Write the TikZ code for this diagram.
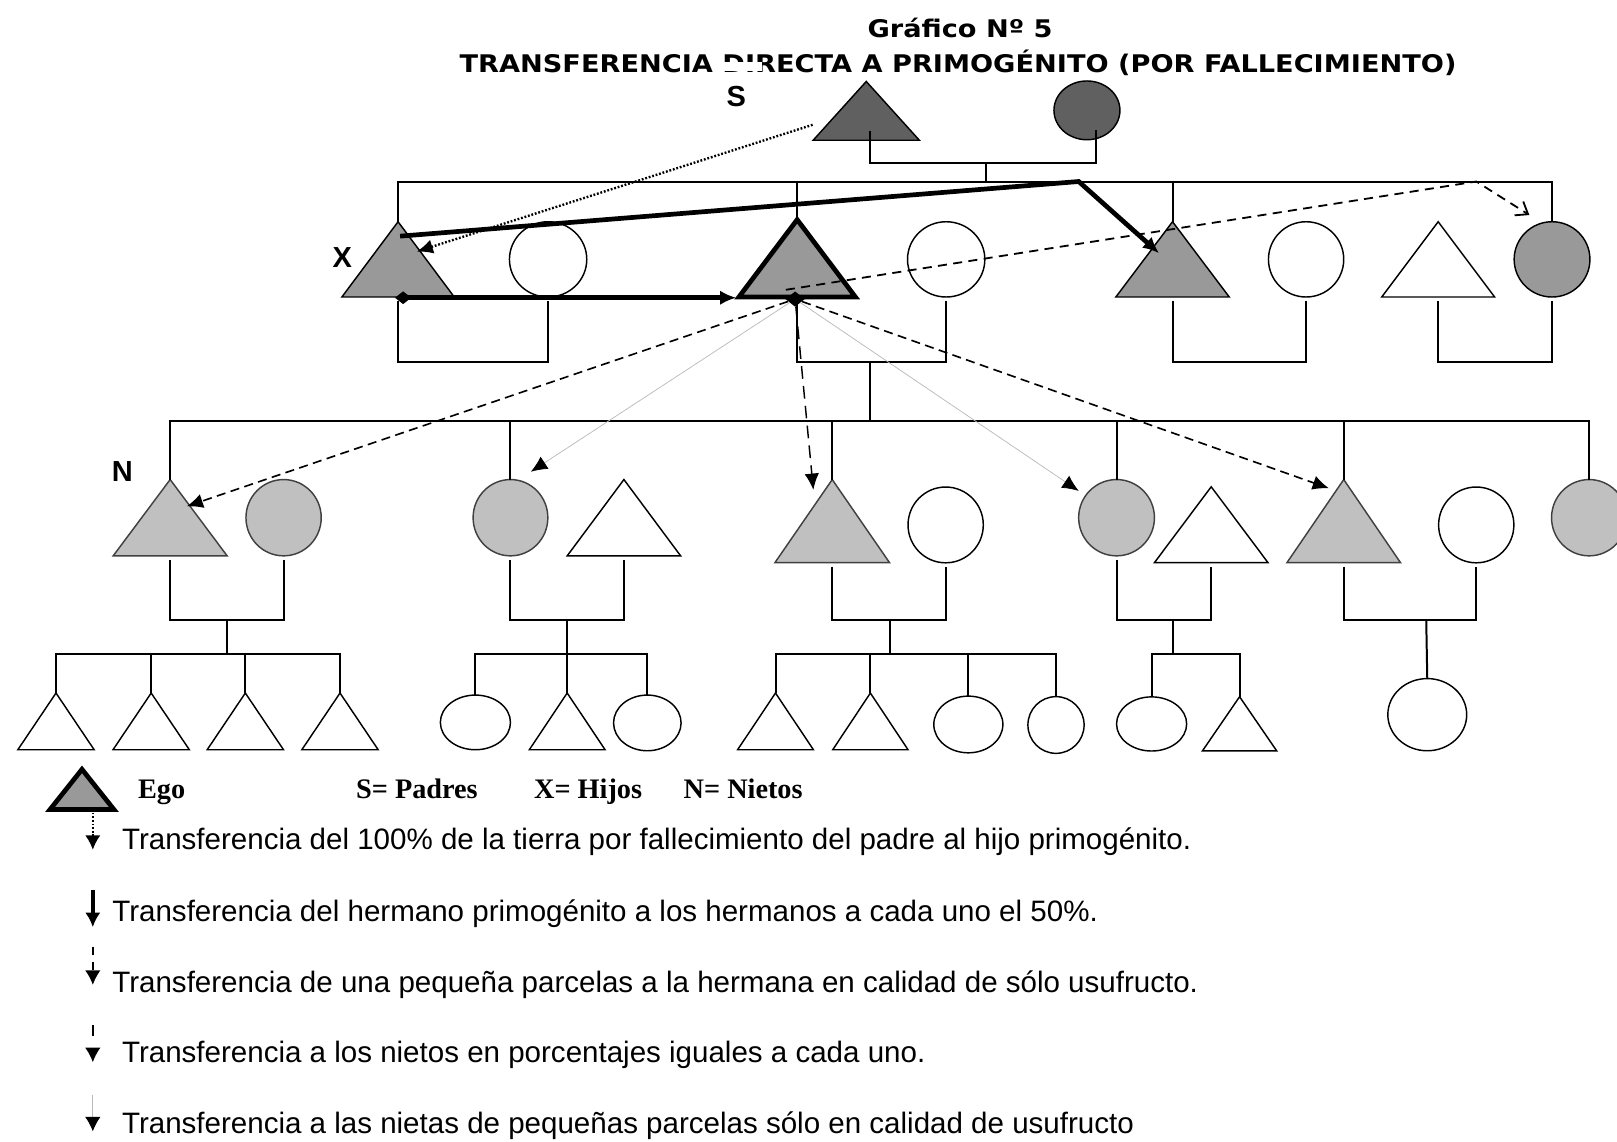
\documentclass[tikz,border=0pt]{standalone}
\usepackage{fontspec}
\setmainfont{Liberation Sans}
\newfontfamily\headfont{DejaVu Sans}[FakeStretch=1.12]
\newfontfamily\keyfont{Liberation Serif}
\usetikzlibrary{shapes.geometric, arrows.meta, calc}

\definecolor{pargray}{HTML}{606060}
\definecolor{songray}{HTML}{999999}
\definecolor{grandgray}{HTML}{C0C0C0}

\begin{document}
\begin{tikzpicture}[
    x=0.02cm, y=-0.02cm,
    person/.style={draw=black, line width=0.8pt, inner sep=0pt, outer sep=0pt},
    tri/.style={person, isosceles triangle, isosceles triangle stretches, shape border rotate=90, anchor=apex},
    circ/.style={person, ellipse},
    parent/.style={fill=pargray},
    son/.style={fill=songray},
    grand/.style={fill=grandgray, draw=black!75},
    plain/.style={fill=white},
    egobox/.style={son, line width=2.6pt},
    link/.style={line width=1.1pt},
    couple/.style={link, shorten <=0.08cm, shorten >=0.08cm},
    >={Latex[length=9pt,width=8pt]},
    heavy/.style={->, line width=2.6pt},
    dots/.style={->, line width=1.3pt, dash pattern=on 1pt off 1pt},
    dashline/.style={->, line width=0.9pt, dash pattern=on 5pt off 3pt},
    longdash/.style={->, line width=0.8pt, dash pattern=on 7pt off 4pt},
    faint/.style={->, gray!55, line width=0.4pt, >={Latex[length=9pt,width=8pt,color=black]}},
    titletext/.style={anchor=base, inner sep=0pt, font=\headfont\bfseries\fontsize{13.4pt}{16pt}\selectfont},
    tag/.style={inner sep=0pt, font=\bfseries\fontsize{16pt}{19pt}\selectfont},
    keytag/.style={anchor=base west, inner sep=0pt, font=\keyfont\bfseries\fontsize{15.6pt}{18pt}\selectfont},
    keytext/.style={anchor=base west, inner sep=0pt, font=\fontsize{16.3pt}{19pt}\selectfont}
]
    \useasboundingbox (0,0) rectangle (1568,1107);

    % Title
    \node[titletext] (title1) at (931,36) {Gráfico Nº 5};
    \node[titletext] (title2) at (929,70.5) {TRANSFERENCIA DIRECTA A PRIMOGÉNITO (POR FALLECIMIENTO)};
    \fill[white] (700,60.5) rectangle (739,68.5);

    % Parents (S)
    \node[tri, parent, minimum width=2.06cm, minimum height=1.14cm] (sF) at (840,79) {};
    \node[circ, parent, minimum width=1.28cm, minimum height=1.14cm] (sM) at (1054,107) {};
    \node[tag] (S) at (714,94) {S};

    % Children (X)
    \node[tri, son, minimum width=2.18cm, minimum height=1.46cm] (x1) at (386,215) {};
    \node[circ, plain, minimum width=1.5cm, minimum height=1.46cm] (x1w) at (531.5,251.5) {};
    \node[tri, egobox, minimum width=2.26cm, minimum height=1.5cm] (ego) at (773,213) {};
    \node[circ, plain, minimum width=1.5cm, minimum height=1.46cm] (egow) at (917.5,251.5) {};
    \node[tri, son, minimum width=2.2cm, minimum height=1.46cm] (x3) at (1137,215) {};
    \node[circ, plain, minimum width=1.46cm, minimum height=1.46cm] (x3w) at (1266.5,251.5) {};
    \node[tri, plain, minimum width=2.19cm, minimum height=1.46cm] (x4h) at (1394.6,215) {};
    \node[circ, son, minimum width=1.47cm, minimum height=1.46cm] (x4) at (1505,251.5) {};
    \node[tag] (X) at (332,250) {X};

    % Grandchildren (N)
    \node[tri, grand, minimum width=2.21cm, minimum height=1.48cm] (n1) at (165,465) {};
    \node[circ, grand, minimum width=1.46cm, minimum height=1.48cm] (n1w) at (275,502) {};
    \node[circ, grand, minimum width=1.45cm, minimum height=1.48cm] (n2) at (495,502) {};
    \node[tri, plain, minimum width=2.2cm, minimum height=1.48cm] (n2h) at (605,465) {};
    \node[tri, grand, minimum width=2.22cm, minimum height=1.61cm] (n3) at (807,465) {};
    \node[circ, plain, minimum width=1.46cm, minimum height=1.47cm] (n3w) at (917,509) {};
    \node[circ, grand, minimum width=1.47cm, minimum height=1.48cm] (n4) at (1082.7,502) {};
    \node[tri, plain, minimum width=2.2cm, minimum height=1.47cm] (n4h) at (1174.5,472) {};
    \node[tri, grand, minimum width=2.2cm, minimum height=1.61cm] (n5) at (1303,465) {};
    \node[circ, plain, minimum width=1.46cm, minimum height=1.47cm] (n5w) at (1431.5,509) {};
    \node[circ, grand, minimum width=1.46cm, minimum height=1.48cm] (n6) at (1541,502) {};
    \node[tag] (N) at (118.6,457) {N};

    % Great-grandchildren
    \foreach \i/\x in {1/54.3, 2/146.6, 3/237.9, 4/329.7}
        \node[tri, plain, minimum width=1.48cm, minimum height=1.1cm] (g1\i) at (\x,672) {};
    \node[circ, plain, minimum width=1.36cm, minimum height=1.06cm] (g21) at (461,700.5) {};
    \node[tri, plain, minimum width=1.47cm, minimum height=1.1cm] (g22) at (550,672) {};
    \node[circ, plain, minimum width=1.31cm, minimum height=1.08cm] (g23) at (627.7,701) {};
    \node[tri, plain, minimum width=1.47cm, minimum height=1.1cm] (g31) at (752,672) {};
    \node[tri, plain, minimum width=1.46cm, minimum height=1.1cm] (g32) at (844,672) {};
    \node[circ, plain, minimum width=1.34cm, minimum height=1.1cm] (g33) at (939,702.5) {};
    \node[circ, plain, minimum width=1.09cm, minimum height=1.1cm] (g34) at (1024,703) {};
    \node[circ, plain, minimum width=1.36cm, minimum height=1.05cm] (g41) at (1116.7,702) {};
    \node[tri, plain, minimum width=1.44cm, minimum height=1.05cm] (g42) at (1202,675.6) {};
    \node[circ, plain, minimum width=1.53cm, minimum height=1.4cm] (g5) at (1384,693) {};

    % Parents' lines
    \coordinate (pm) at (956,158);
    \coordinate (sib1) at (956,176);
    \draw[link] ($(sF.south)+(4,-9)$) |- (pm) -| ($(sM.south)+(9,-9)$);
    \draw[link] (pm) -- (sib1);
    \draw[link] (x1.apex) |- (sib1) -| (x4.north);
    \draw[link] (ego.apex) -- (ego.apex |- sib1);
    \draw[link] (x3.apex) -- (x3.apex |- sib1);

    % Couples of the children
    \draw[couple] (x1.south) -- ++(0,62.7) -| (x1w.south);
    \draw[couple] (ego.south) -- ++(0,62.7) -| (egow.south);
    \draw[couple] (x3.south) -- ++(0,62.7) -| (x3w.south);
    \draw[couple] (x4h.south) -- ++(0,62.7) -| (x4.south);

    % Ego's children
    \coordinate (em) at (844,350.7);
    \coordinate (sib2) at (844,408);
    \draw[link] (em) -- (sib2);
    \draw[link] (n1.apex) |- (sib2) -| (n6.north);
    \foreach \n in {n3, n5}
        \draw[link] (\n.apex) -- (\n.apex |- sib2);
    \foreach \n in {n2, n4}
        \draw[link] (\n.north) -- (\n.north |- sib2);

    % Couples of the grandchildren
    \draw[couple] (n1.south) -- ++(0,62) -| (n1w.south);
    \draw[couple] (n2.south) -- ++(0,62) -| (n2h.south);
    \draw[couple] (n3.south) -- ++(0,55.4) -| (n3w.south);
    \draw[couple] (n4.south) -- ++(0,62) -| (n4h.south);
    \draw[couple] (n5.south) -- ++(0,55.4) -| (n5w.south);

    % Great-grandchildren lines
    \coordinate (m1) at (220,601);   \coordinate (s1) at (220,634);
    \coordinate (m2) at (550,601);
    \coordinate (m3) at (862.7,601); \coordinate (s3) at (862.7,634);
    \coordinate (m4) at (1137.6,601); \coordinate (s4) at (1137.6,634);
    \coordinate (m5) at (1383,601);

    \draw[link] (m1) -- (s1);
    \draw[link] (g11.apex) |- (s1) -| (g14.apex);
    \draw[link] (g12.apex) -- (g12.apex |- s1);
    \draw[link] (g13.apex) -- (g13.apex |- s1);

    \draw[link] (m2) -- (g22.apex);
    \draw[link] (g21.north) |- (g22.apex |- 0,634) -| (g23.north);

    \draw[link] (m3) -- (s3);
    \draw[link] (g31.apex) |- (s3) -| (g34.north);
    \draw[link] (g32.apex) -- (g32.apex |- s3);
    \draw[link] (g33.north) -- (g33.north |- s3);

    \draw[link] (m4) -- (s4);
    \draw[link] (g41.north) |- (s4) -| (g42.apex);

    \draw[link] (m5) -- (g5.north);

    % Transfers
    \coordinate (k1) at (1046,176);
    \coordinate (k2) at (1431.6,176);
    \draw[dots] ($(sF.apex)+(-52,42)$) -- ($(x1.apex)+(18,29)$);
    \draw[heavy] ($(x1.apex)+(2,14)$) -- (k1) -- ($(x3.apex)+(-13,30.6)$);
    \draw[heavy, {Diamond[length=9pt,width=7pt]}->] ($(x1.apex)+(-3,73.7)$) -- ($(ego.apex)+(-59,75.7)$);
    \draw[line width=1pt, dash pattern=on 5pt off 3.5pt, -{Straight Barb[length=6pt,width=9pt]}]
        ($(ego.apex)+(-11,68)$) -- (k2) -- ($(x4.north)+(-22,-6.5)$);

    \node[diamond, fill=black, inner sep=0pt, minimum width=0.38cm, minimum height=0.3cm] (hub) at (771,290) {};
    \draw[dashline] (hub) -- ($(n1.apex)+(16,26)$);
    \draw[faint] (hub) -- ($(n2.north)+(19.8,-7.6)$);
    \draw[longdash] (hub) -- ($(n3.apex)+(-18.3,10)$);
    \draw[faint] (hub) -- ($(n4.north)+(-36.7,11)$);
    \draw[dashline] (hub) -- ($(n5.apex)+(-14.3,8.5)$);

    % Key
    \node[tri, egobox, minimum width=1.24cm, minimum height=0.78cm] (keyego) at (79.5,746) {};
    \node[keytag] (kego) at (133.6,774) {Ego};
    \node[keytag] (ks) at (345,774) {S= Padres};
    \node[keytag] (kx) at (517.6,774) {X= Hijos};
    \node[keytag] (kn) at (662.6,774) {N= Nietos};

    \node[keytext] (t1) at (118,824) {Transferencia del 100\% de la tierra por fallecimiento del padre al hijo primogénito.};
    \node[keytext] (t2) at (108.6,893.8) {Transferencia del hermano primogénito a los hermanos a cada uno el 50\%.};
    \node[keytext] (t3) at (108.6,962) {Transferencia de una pequeña parcelas a la hermana en calidad de sólo usufructo.};
    \node[keytext] (t4) at (118,1030.5) {Transferencia a los nietos en porcentajes iguales a cada uno.};
    \node[keytext] (t5) at (118,1099) {Transferencia a las nietas de pequeñas parcelas sólo en calidad de usufructo};

    \begin{scope}[>={Latex[length=8pt,width=8.5pt]}]
        \draw[dots, line width=1pt] (90,788) -- (90,824);
        \draw[->, line width=2.4pt] (90,863) -- (90,899);
        \draw[->, line width=0.8pt, dash pattern=on 4.5pt off 4pt] (90,918) -- (90,955);
        \draw[->, line width=0.8pt, dash pattern=on 6pt off 7pt] (90,994) -- (90,1030);
        \draw[faint, >={Latex[length=8pt,width=8.5pt,color=black]}] (90,1062) -- (90,1097);
    \end{scope}
\end{tikzpicture}
\end{document}
